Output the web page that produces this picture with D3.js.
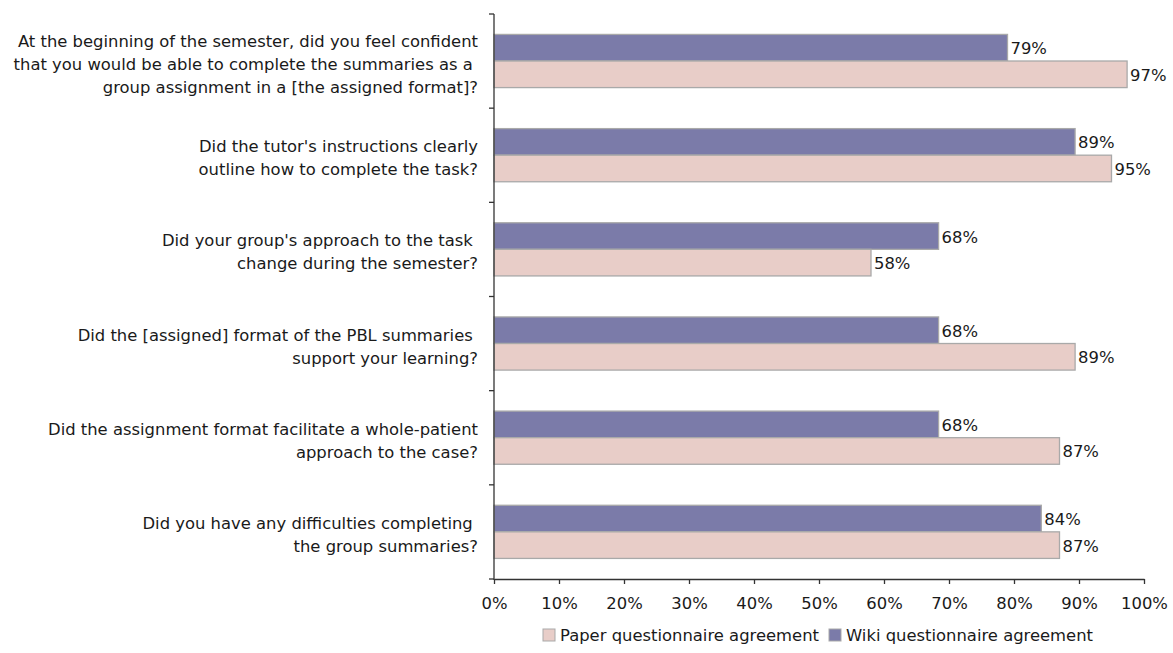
<!DOCTYPE html>
<html><head><meta charset="utf-8">
<script src="https://cdn.jsdelivr.net/npm/d3@7"></script>
<style>
html,body{margin:0;padding:0;background:#fff;}
svg{display:block;font-family:"DejaVu Sans",Verdana,sans-serif;}
</style></head>
<body>
<svg id="chart" width="1173" height="653"></svg>
<script>
const categories = [
  ["At the beginning of the semester, did you feel confident", "that you would be able to complete the summaries as a\u00A0", "group assignment in a [the assigned format]?"],
  ["Did the tutor's instructions clearly", "outline how to complete the task?"],
  ["Did your group's approach to the task\u00A0", "change during the semester?"],
  ["Did the [assigned] format of the PBL summaries\u00A0", "support your learning?"],
  ["Did the assignment format facilitate a whole-patient", "approach to the case?"],
  ["Did you have any difficulties completing\u00A0", "the group summaries?"]
];
const seriesNames = ["Wiki questionnaire agreement", "Paper questionnaire agreement"];
const wikiValues = [79.0, 89.4, 68.4, 68.4, 68.4, 84.2];
const paperValues = [97.4, 95.0, 58.0, 89.4, 87.0, 87.0];
const wikiLabels = ["79%","89%","68%","68%","68%","84%"];
const paperLabels = ["97%","95%","58%","89%","87%","87%"];
const xTicks = [0,10,20,30,40,50,60,70,80,90,100];
const legendOrder = ["Paper questionnaire agreement", "Wiki questionnaire agreement"];

const colors = {"Wiki questionnaire agreement":"#7b7ba9", "Paper questionnaire agreement":"#e8cdc8"};
const strokeCol = "#a9a9a9";
const textCol = "#1a1a1a";
const fs = 16.4;

const svg = d3.select("#chart");
const mLeft = 494, mRight = 1144, mTop = 14, mBottom = 579;

const x = d3.scaleLinear().domain([0,100]).range([mLeft, mRight]);
const y = d3.scaleBand().domain(d3.range(categories.length)).range([mTop, mBottom]).padding(0);
const bw = y.bandwidth();
const ys = d3.scaleBand().domain(seriesNames).range([bw*0.217, bw*0.7815]).padding(0);

const rows = categories.map((c,i)=>({i, wiki: wikiValues[i], paper: paperValues[i]}));

// bars
const g = svg.append("g");
rows.forEach(r=>{
  [["Wiki questionnaire agreement", r.wiki, wikiLabels[r.i]], ["Paper questionnaire agreement", r.paper, paperLabels[r.i]]].forEach(([s,v,lab])=>{
    const yy = y(r.i) + ys(s);
    g.append("rect")
      .attr("x", x(0)).attr("y", yy)
      .attr("width", x(v)-x(0)).attr("height", ys.bandwidth())
      .attr("fill", colors[s]).attr("stroke", strokeCol).attr("stroke-width", 1.3);
    g.append("text")
      .attr("x", x(v)+3).attr("y", yy + ys.bandwidth()/2 + 1)
      .attr("dominant-baseline","central")
      .attr("font-size", fs).attr("fill", textCol)
      .text(lab);
  });
});

// y axis
svg.append("line").attr("x1", mLeft).attr("x2", mLeft).attr("y1", mTop).attr("y2", mBottom+1)
  .attr("stroke","#333").attr("stroke-width",1.3);
const yTickPos = d3.range(categories.length+1).map(k=> mTop + k*bw);
svg.selectAll(".ytick").data(yTickPos).enter().append("line")
  .attr("x1", mLeft-5).attr("x2", mLeft).attr("y1", d=>d).attr("y2", d=>d)
  .attr("stroke","#333").attr("stroke-width",1.3);

// category labels
categories.forEach((lines,i)=>{
  const cy = y(i) + bw/2 + 3;
  const lh = 23;
  const t = svg.append("text").attr("text-anchor","end").attr("font-size", fs).attr("fill", textCol);
  lines.forEach((ln,k)=>{
    t.append("tspan").attr("x", 478).attr("y", cy + (k - (lines.length-1)/2)*lh)
      .attr("dominant-baseline","central").text(ln);
  });
});

// x axis
const xAxis = d3.axisBottom(x).tickValues(xTicks).tickFormat(d=>d+"%").tickSize(5).tickSizeOuter(0).tickPadding(13);
const xg = svg.append("g").attr("transform", `translate(0,${mBottom})`).call(xAxis);
xg.select(".domain").attr("stroke","#333").attr("stroke-width",1.3);
xg.selectAll(".tick line").attr("stroke","#333").attr("stroke-width",1.3);
xg.selectAll(".tick text").attr("font-size", fs).attr("fill", textCol).attr("font-family","DejaVu Sans, Verdana, sans-serif");

// legend
const legendX = [543, 829];
legendOrder.forEach((s,k)=>{
  const lg = svg.append("g").attr("transform", `translate(${legendX[k]},629)`);
  lg.append("rect").attr("x",0).attr("y",0).attr("width",12).attr("height",12)
    .attr("fill", colors[s]).attr("stroke", strokeCol).attr("stroke-width",1);
  lg.append("text").attr("x",17).attr("y",6.5).attr("dominant-baseline","central")
    .attr("font-size", fs).attr("fill", textCol).text(s);
});
</script>
</body></html>
